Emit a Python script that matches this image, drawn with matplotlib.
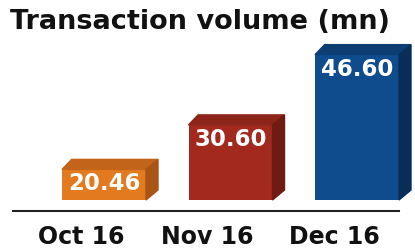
import matplotlib
matplotlib.use("Agg")
import matplotlib.pyplot as plt
from matplotlib.patches import Polygon
from matplotlib.lines import Line2D
import numpy as np

months = ["Oct 16", "Nov 16", "Dec 16"]
volume = [20.46, 30.60, 46.60]
labels = ["20.46", "30.60", "46.60"]

front = ["#E37A1F", "#A3291E", "#0F4C8D"]
top = ["#C2651A", "#8C2419", "#0C3E74"]
side = ["#A85515", "#6F1B13", "#082E58"]

W, H = 415, 250
fig = plt.figure(figsize=(W / 100, H / 100), dpi=100)
ax = fig.add_axes([0, 0, 1, 1])

# pixel scales for the sketch
px_x = 126.5          # px per category
px_y = 4.39           # px per unit
base = 13.49          # value at bar foot
x0 = 104              # px of first bar center
ax.set_xlim(-x0 / px_x, (W - x0) / px_x)
ax.set_ylim(base - 50 / px_y, base + 200 / px_y)
ax.axis("off")

x = np.arange(len(months))
bw = 84 / px_x
dx = 12 / px_x
dy = 10 / px_y

for i, v in enumerate(volume):
    l, r = x[i] - bw / 2, x[i] + bw / 2
    ax.bar(x[i], v - base, bottom=base, width=bw, color=front[i], zorder=2)
    ax.add_patch(Polygon([(l, v), (l + dx * 0.8, v + dy), (r + dx, v + dy), (r, v)],
                         closed=True, color=top[i], zorder=2))
    ax.add_patch(Polygon([(r, base), (r, v), (r + dx, v + dy), (r + dx, base + dy)],
                         closed=True, color=side[i], zorder=2))
    ax.text(x[i], v - 3.3, labels[i], ha="center", va="center", color="white",
            fontsize=16.5, fontweight="bold", zorder=3)
    ax.text(x[i] - 0.18, base - 37 / px_y, months[i], ha="center", va="center",
            color="#111111", fontsize=17, fontweight="bold")

fig.add_artist(Line2D([13 / W, 399 / W], [39 / H, 39 / H], color="#222222", lw=1.5))
fig.text(10 / W, 1 - 22 / H, "Transaction volume (mn)", ha="left", va="center",
         fontsize=19.5, fontweight="bold", color="#111111")

fig.savefig("out.png", dpi=100)
